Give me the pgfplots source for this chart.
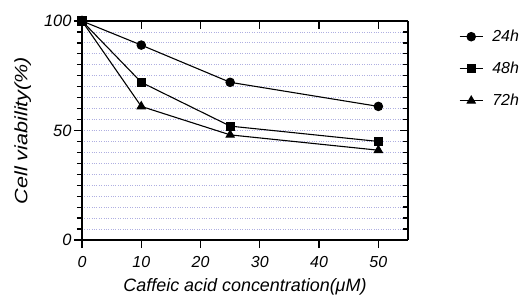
\documentclass[border=0pt]{standalone}
\usepackage{pgfplots}
\pgfplotsset{compat=1.18}
\usepackage{fontspec}
\setmainfont{Liberation Sans}
\newfontfamily\stretchfont[FakeStretch=1.2]{Liberation Sans}
\definecolor{gridc}{RGB}{175,175,225}
\begin{document}
\begin{tikzpicture}
\useasboundingbox (-82bp,-55bp) rectangle (443bp,240bp);
\pgfplotsset{
  common/.style={
    width=326bp, height=219bp, scale only axis,
    xmin=0, xmax=55, ymin=0, ymax=100,
    axis line style={line width=1.6bp},
    major tick style={line width=1.3bp, black},
    minor tick style={line width=1.3bp, black},
  }
}
\begin{axis}[common,
  axis x line*=bottom, axis y line*=left,
  tick align=outside,
  xtick={0,10,20,30,40,50},
  ytick={0,50,100},
  minor ytick={5,10,...,95},
  major tick length=8bp, minor tick length=5bp,
  ymajorgrids, yminorgrids,
  major grid style={gridc, dotted, line width=0.8bp},
  minor grid style={gridc, dotted, line width=0.8bp},
  /pgf/number format/assume math mode=true,
  xticklabel style={font=\fontsize{16}{16}\selectfont\itshape, yshift=-5bp},
  yticklabel style={font=\fontsize{16.5}{16.5}\selectfont\itshape, xshift=1bp},
  xlabel={Caffeic acid concentration(μM)},
  ylabel={Cell viability(\%)},
  xlabel style={font=\fontsize{18}{18}\selectfont\itshape, yshift=-3.5bp},
  ylabel style={font=\fontsize{18}{18}\stretchfont\itshape, yshift=6bp},
  legend style={at={(1,1)}, anchor=north west, xshift=48bp, yshift=-5bp, draw=none, fill=none,
    font=\fontsize{16}{16}\selectfont\itshape, row sep=15bp,
    nodes={inner xsep=9bp}},
  legend cell align=left,
  legend image code/.code={\draw[mark repeat=2,mark phase=2] plot coordinates {(0bp,0bp)(11.5bp,0bp)(23bp,0bp)};},
]
\addplot[black, line width=1.1bp, mark=*, mark size=4.2bp] coordinates {(0,100)(10,89)(25,72)(50,61)};
\addlegendentry{24h}
\addplot[black, line width=1.1bp, mark=square*, mark size=4bp] coordinates {(0,100)(10,72)(25,52)(50,45)};
\addlegendentry{48h}
\addplot[black, line width=1.1bp, mark=triangle*, mark size=4.6bp] coordinates {(0,100)(10,61)(25,48)(50,41)};
\addlegendentry{72h}
\end{axis}
\begin{axis}[common,
  axis x line*=top, axis y line*=right,
  tick align=inside,
  xtick={10,20,30,40,50},
  ytick={0,50,100},
  minor ytick={5,10,...,95},
  major tick length=8bp, minor tick length=5bp,
  xticklabels={}, yticklabels={},
]
\end{axis}
\end{tikzpicture}
\end{document}
